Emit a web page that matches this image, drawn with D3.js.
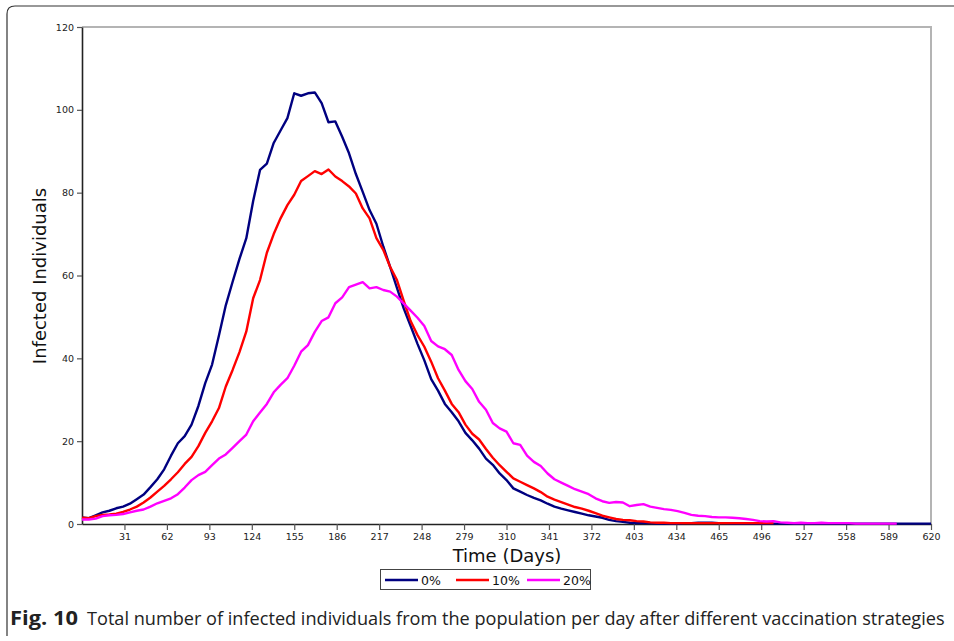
<!DOCTYPE html>
<html>
<head>
<meta charset="utf-8">
<script src="https://cdn.jsdelivr.net/npm/d3@7"></script>
<style>
  body { margin: 0; background: #fff; }
  .tick text { font-family: "DejaVu Sans", sans-serif; font-size: 9.5px; fill: #222; }
  .axis-title { font-family: "DejaVu Sans", sans-serif; font-size: 18px; fill: #111; }
</style>
</head>
<body>
<div id="chart"></div>
<script>
// days of the simulation (every 5 days)
var days = d3.range(0, 621, 5);

// 0% vaccinated
var noVaccine = [1.6, 1.4, 2.1, 2.8, 3.2, 3.8, 4.2, 4.9, 6.0, 7.1, 8.9, 10.8, 13.2, 16.5, 19.5, 21.2, 24.0, 28.5, 34.0, 38.5,
    45.5, 52.8, 58.5, 64.0, 69.0, 78.0, 85.5, 87.0, 92.0, 95.0, 98.0, 104.0, 103.4, 104.0, 104.2, 101.6, 97.0, 97.2, 93.5, 89.5,
    84.5, 80.2, 75.8, 72.5, 67.0, 62.1, 57.0, 52.0, 47.8, 43.5, 39.5, 35.0, 32.2, 29.0, 27.0, 24.8, 22.0, 20.2, 18.2, 15.8,
    14.3, 12.2, 10.6, 8.6, 7.8, 7.0, 6.3, 5.7, 4.9, 4.2, 3.7, 3.3, 2.9, 2.5, 2.1, 1.8, 1.5, 1.0, 0.7, 0.5,
    0.3, 0.2, 0.2, 0.2, 0.1, 0.1, 0.1, 0.1, 0.2, 0.2, 0.3, 0.3, 0.3, 0.2, 0.2, 0.1, 0.1, 0.1, 0.1, 0.1,
    0.1, 0.1, 0.1, 0.1, 0.1, 0.1, 0.1, 0.1, 0.1, 0.1, 0.1, 0.1, 0.1, 0.1, 0.1, 0.1, 0.1, 0.1, 0.1, 0.1,
    0.1, 0.1, 0.1, 0.1, 0.1];

// 10% vaccinated (series stops at day 505)
var tenPercent = [1.5, 1.4, 1.9, 2.2, 2.3, 2.5, 2.9, 3.5, 4.2, 5.2, 6.4, 7.8, 9.2, 10.8, 12.5, 14.5, 16.2, 18.8, 22.0, 24.8,
    28.0, 33.2, 37.2, 41.5, 46.5, 54.5, 58.9, 65.5, 70.0, 73.8, 77.0, 79.5, 82.8, 84.0, 85.2, 84.5, 85.6, 83.9, 82.8, 81.5,
    79.8, 76.2, 73.8, 69.0, 66.2, 62.1, 58.9, 53.8, 49.0, 45.6, 42.8, 39.2, 35.2, 32.2, 29.0, 27.0, 24.0, 21.8, 20.4, 18.1,
    16.0, 14.2, 12.6, 11.0, 10.2, 9.4, 8.6, 7.7, 6.6, 5.9, 5.3, 4.7, 4.1, 3.7, 3.2, 2.6, 2.0, 1.6, 1.2, 1.0,
    0.9, 0.7, 0.6, 0.4, 0.3, 0.3, 0.2, 0.2, 0.2, 0.2, 0.2, 0.2, 0.2, 0.2, 0.2, 0.2, 0.2, 0.2, 0.2, 0.2,
    0.2, 0.2];

// 20% vaccinated (series stops at day 595)
var twentyPercent = [1.1, 1.1, 1.3, 1.9, 2.1, 2.2, 2.4, 2.8, 3.2, 3.5, 4.2, 5.0, 5.6, 6.2, 7.2, 8.8, 10.6, 11.8, 12.6, 14.2,
    15.8, 16.8, 18.4, 20.0, 21.6, 24.8, 26.9, 29.0, 31.8, 33.6, 35.2, 38.2, 41.6, 43.2, 46.4, 49.0, 49.9, 53.3, 54.7, 57.2,
    57.8, 58.4, 56.9, 57.2, 56.5, 56.1, 54.9, 53.2, 51.5, 49.8, 47.8, 44.2, 42.9, 42.2, 40.8, 37.2, 34.5, 32.6, 29.5, 27.6,
    24.4, 23.1, 22.3, 19.5, 19.1, 16.5, 15.0, 14.0, 12.2, 10.8, 10.0, 9.2, 8.4, 7.8, 7.2, 6.2, 5.5, 5.1, 5.3, 5.2,
    4.3, 4.6, 4.8, 4.2, 3.9, 3.6, 3.4, 3.1, 2.7, 2.2, 2.0, 1.9, 1.7, 1.6, 1.6, 1.5, 1.4, 1.2, 1.0, 0.7,
    0.6, 0.7, 0.4, 0.3, 0.2, 0.3, 0.2, 0.2, 0.3, 0.2, 0.2, 0.2, 0.2, 0.1, 0.1, 0.1, 0.1, 0.1, 0.1, 0.1];

var xTicks = d3.range(31, 621, 31);
var yTicks = [0, 20, 40, 60, 80, 100, 120];

var seriesNames = ["0%", "10%", "20%"];
var seriesColors = ["#000080", "#ff0000", "#ff00ff"];

var svgWidth = 954;
var svgHeight = 641;

var svg = d3.select("#chart")
    .append("svg")
    .attr("width", svgWidth)
    .attr("height", svgHeight);

// outer figure frame (rounded top-left corner)
svg.append("path")
    .attr("d", "M7,636 L7,14 Q7,6 15,6 L954,6")
    .attr("fill", "none")
    .attr("stroke", "#333")
    .attr("stroke-width", 1.2);

// scales
var xScale = d3.scaleLinear()
    .domain([0, 620])
    .range([82, 931]);

var yScale = d3.scaleLinear()
    .domain([0, 120])
    .range([524, 27]);

// gray plot frame (top and right)
svg.append("path")
    .attr("d", `M${xScale(0)},${yScale(120)} L${xScale(620)},${yScale(120)} L${xScale(620)},${yScale(0)}`)
    .attr("fill", "none")
    .attr("stroke", "#b4b4b4")
    .attr("stroke-width", 2);

// axes
var bottomAxis = d3.axisBottom(xScale).tickValues(xTicks).tickSizeInner(6).tickSizeOuter(0).tickPadding(3);
var leftAxis = d3.axisLeft(yScale).tickValues(yTicks).tickSizeInner(5).tickSizeOuter(0).tickPadding(3);

var xAxisG = svg.append("g")
    .attr("transform", `translate(0, ${yScale(0)})`)
    .call(bottomAxis);

var yAxisG = svg.append("g")
    .attr("transform", `translate(${xScale(0)}, 0)`)
    .call(leftAxis);

[xAxisG, yAxisG].forEach(function(g) {
    g.select(".domain").attr("stroke", "#222").attr("stroke-width", 1.6);
    g.selectAll(".tick line").attr("stroke", "#555").attr("stroke-width", 1.2);
});

// lines, drawn in order so magenta sits on top
var allSeries = [noVaccine, tenPercent, twentyPercent];

var line = d3.line()
    .x(d => xScale(d.day))
    .y(d => yScale(d.value));

allSeries.forEach(function(values, i) {
    var points = values.map((v, j) => ({ day: days[j], value: v }));
    svg.append("path")
        .datum(points)
        .attr("d", line)
        .attr("fill", "none")
        .attr("stroke", seriesColors[i])
        .attr("stroke-width", 2.4)
        .attr("stroke-linejoin", "round");
});

// axis titles
svg.append("text")
    .classed("axis-title", true)
    .attr("x", 507)
    .attr("y", 562)
    .attr("text-anchor", "middle")
    .text("Time (Days)");

svg.append("text")
    .classed("axis-title", true)
    .attr("transform", "rotate(-90)")
    .attr("x", -276)
    .attr("y", 46)
    .attr("text-anchor", "middle")
    .text("Infected Individuals");

// legend
var legend = svg.append("g");

legend.append("rect")
    .attr("x", 380.5)
    .attr("y", 569.5)
    .attr("width", 210)
    .attr("height", 20)
    .attr("fill", "#fff")
    .attr("stroke", "#444")
    .attr("stroke-width", 1);

var legendX = [385, 456, 527];
seriesNames.forEach(function(name, i) {
    legend.append("line")
        .attr("x1", legendX[i])
        .attr("x2", legendX[i] + 33)
        .attr("y1", 580)
        .attr("y2", 580)
        .attr("stroke", seriesColors[i])
        .attr("stroke-width", 2.4);
    legend.append("text")
        .attr("x", legendX[i] + 36)
        .attr("y", 584.5)
        .style("font-family", "DejaVu Sans, sans-serif")
        .style("font-size", "12.5px")
        .attr("fill", "#111")
        .text(name);
});

// caption: squeeze each piece horizontally to the width it has in the figure
function fitText(sel, x, width) {
    var natural = sel.node().getComputedTextLength();
    var sx = width / natural;
    sel.attr("transform", `translate(${x}, 625) scale(${sx}, 1)`);
}

var figLabel = svg.append("text")
    .style("font-family", "Open Sans, sans-serif")
    .style("font-size", "19px")
    .style("font-weight", "bold")
    .attr("fill", "#222")
    .text("Fig. 10");
fitText(figLabel, 10, 68);

var captionText = svg.append("text")
    .style("font-family", "Open Sans, sans-serif")
    .style("font-size", "19px")
    .attr("fill", "#222")
    .text("Total number of infected individuals from the population per day after different vaccination strategies");
fitText(captionText, 87, 858);
</script>
</body>
</html>
